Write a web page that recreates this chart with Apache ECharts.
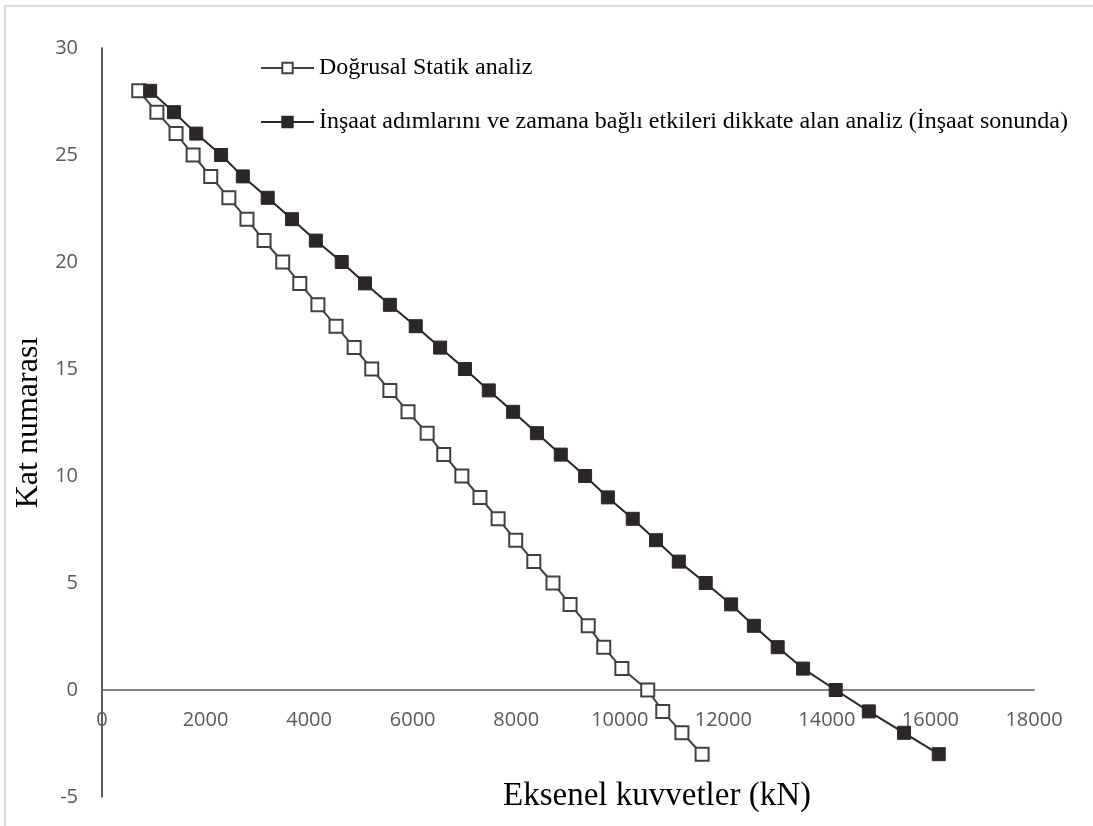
<!DOCTYPE html>
<html>
<head>
<meta charset="utf-8">
<script src="https://cdn.jsdelivr.net/npm/echarts@6/dist/echarts.min.js"></script>
<style>
  html, body { margin: 0; padding: 0; background: #fff; }
  #main { width: 1093px; height: 826px; }
</style>
</head>
<body>
<div id="main"></div>
<script>
// kat numaralari (28. kattan bodrum -3'e)
var floors = [28, 27, 26, 25, 24, 23, 22, 21, 20, 19, 18, 17, 16, 15, 14, 13,
  12, 11, 10, 9, 8, 7, 6, 5, 4, 3, 2, 1, 0, -1, -2, -3];

// Doğrusal statik analiz - eksenel kuvvet (kN)
var linearStatic = [710, 1060, 1430, 1760, 2100, 2450, 2800, 3130, 3490, 3820, 4170,
  4520, 4870, 5210, 5560, 5910, 6280, 6600, 6950, 7300, 7650, 7990, 8340, 8710,
  9040, 9390, 9690, 10040, 10540, 10830, 11200, 11590];

// insaat adimlari + zamana bagli etkiler (insaat sonunda)
var stagedAnalysis = [930, 1390, 1820, 2300, 2720, 3200, 3670, 4130, 4630, 5080, 5560,
  6060, 6530, 7010, 7470, 7940, 8400, 8860, 9330, 9770, 10250, 10700, 11140, 11660,
  12150, 12590, 13050, 13540, 14170, 14810, 15490, 16160];

var xTicks = { min: 0, max: 18000, step: 2000 };
var yTicks = { min: -5, max: 30, step: 5 };

var seriesNames = ['Doğrusal Statik analiz',
  'İnşaat adımlarını ve zamana bağlı etkileri dikkate alan analiz (İnşaat sonunda)'];

function pairs(vals) {
  return floors.map(function (f, i) { return [vals[i], f]; });
}

var gridTop = 48, gridBottom = 29;
var plotH = 826 - gridTop - gridBottom;
// etiketler y=0 cizgisinin altinda dursun diye ikinci eksenin kaydirilmasi
var zeroShift = plotH * (0 - yTicks.min) / (yTicks.max - yTicks.min);

var chart = echarts.init(document.getElementById('main'));

var tickFont = { fontFamily: 'Open Sans', fontSize: 20, color: '#595959' };

var option = {
  animation: false,
  backgroundColor: '#fff',
  graphic: [{
    type: 'rect',
    shape: { x: 5, y: 6, width: 1200, height: 1000 },
    style: { fill: 'none', stroke: '#d9d9d9', lineWidth: 2 },
    silent: true
  }],
  grid: { left: 102, right: 59, top: gridTop, bottom: gridBottom, outerBoundsMode: 'none', containLabel: false },
  legend: {
    orient: 'vertical',
    left: 260,
    top: 56,
    padding: 0,
    itemGap: 30,
    itemWidth: 53,
    itemHeight: 13,
    data: seriesNames,
    textStyle: { fontFamily: 'Liberation Serif', fontSize: 24, color: '#000' }
  },
  xAxis: [{
    type: 'value',
    min: xTicks.min,
    max: xTicks.max,
    interval: xTicks.step,
    axisLine: { onZero: true, lineStyle: { color: '#595959', width: 1.5 } },
    axisTick: { show: false },
    splitLine: { show: false },
    axisLabel: { show: false }
  }, {
    type: 'value',
    position: 'bottom',
    offset: -zeroShift,
    min: xTicks.min,
    max: xTicks.max,
    interval: xTicks.step,
    name: 'Eksenel kuvvetler (kN)',
    nameLocation: 'middle',
    nameGap: 90,
    nameTextStyle: {
      fontFamily: 'Liberation Serif', fontSize: 33, color: '#000',
      padding: [0, 0, 0, 178]
    },
    axisLine: { show: false },
    axisTick: { show: false },
    splitLine: { show: false },
    axisLabel: Object.assign({ margin: 20, formatter: function (v) { return String(v); } }, tickFont)
  }],
  yAxis: {
    type: 'value',
    min: yTicks.min,
    max: yTicks.max,
    interval: yTicks.step,
    name: 'Kat numarası',
    nameLocation: 'middle',
    nameRotate: 90,
    nameGap: 47,
    nameTextStyle: { fontFamily: 'Liberation Serif', fontSize: 32, color: '#000' },
    axisLine: { show: true, onZero: false, lineStyle: { color: '#262626', width: 1.5 } },
    axisTick: { show: false },
    splitLine: { show: false },
    axisLabel: Object.assign({ margin: 24, formatter: function (v) { return String(v); } }, tickFont)
  },
  series: [{
    name: seriesNames[0],
    type: 'line',
    xAxisIndex: 0,
    data: pairs(linearStatic),
    symbol: 'rect',
    symbolSize: 13,
    lineStyle: { color: '#404040', width: 2 },
    itemStyle: { color: '#fff', borderColor: '#404040', borderWidth: 2 },
    z: 3
  }, {
    name: seriesNames[1],
    type: 'line',
    xAxisIndex: 0,
    data: pairs(stagedAnalysis),
    symbol: 'rect',
    symbolSize: 13,
    lineStyle: { color: '#262626', width: 2 },
    itemStyle: { color: '#2d2628', borderColor: '#2d2628', borderWidth: 1 },
    z: 4
  }]
};

chart.setOption(option);
</script>
</body>
</html>
